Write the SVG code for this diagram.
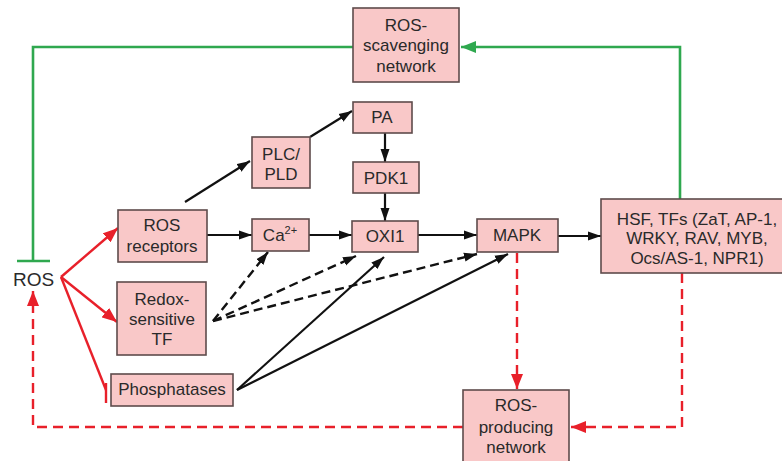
<svg xmlns="http://www.w3.org/2000/svg" width="782" height="461" viewBox="0 0 782 461">
<defs>
<style>
.box{fill:#f9c8c8;stroke:#5e4b4b;stroke-width:1.6}
.t{font-family:"Liberation Sans",Arial,sans-serif;font-size:17px;fill:#2a2a2a;text-anchor:middle}
.blk{stroke:#111;stroke-width:2.2;fill:none}
.blkd{stroke:#111;stroke-width:2.4;fill:none;stroke-dasharray:9,5}
.red{stroke:#e8202a;stroke-width:2.4;fill:none}
.redd{stroke:#e8202a;stroke-width:2.4;fill:none;stroke-dasharray:10,6}
.grn{stroke:#2fa84f;stroke-width:2.6;fill:none}
</style>
<marker id="ab" markerUnits="userSpaceOnUse" markerWidth="14" markerHeight="10" refX="13" refY="5" orient="auto"><path d="M0,0.5 L13,5 L0,9.5 z" fill="#111"/></marker>
<marker id="ar" markerUnits="userSpaceOnUse" markerWidth="16" markerHeight="12" refX="15" refY="6" orient="auto"><path d="M0,0 L15,6 L0,12 z" fill="#e8202a"/></marker>
<marker id="ag" markerUnits="userSpaceOnUse" markerWidth="16" markerHeight="12" refX="15" refY="6" orient="auto"><path d="M0,0 L15,6 L0,12 z" fill="#2fa84f"/></marker>
</defs>
<rect width="782" height="461" fill="#ffffff"/>

<g id="connectors">
<!-- green -->
<polyline class="grn" points="353,47 33,47 33,261"/>
<line class="grn" x1="17" y1="261" x2="50" y2="261"/>
<polyline class="grn" points="680,199 680,47 461,47" marker-end="url(#ag)"/>
<!-- red solid -->
<line class="red" x1="61" y1="277" x2="118" y2="228" marker-end="url(#ar)"/>
<line class="red" x1="61" y1="277" x2="117" y2="322" marker-end="url(#ar)"/>
<line class="red" x1="61" y1="277" x2="106" y2="390"/>
<line class="red" x1="106" y1="383" x2="106" y2="403"/>
<!-- red dashed -->
<polyline class="redd" points="463,427 33,427 33,291" marker-end="url(#ar)"/>
<line class="redd" x1="517" y1="253" x2="517" y2="389" marker-end="url(#ar)"/>
<polyline class="redd" points="682,273 682,427 571,427" marker-end="url(#ar)"/>
<!-- black solid -->
<line class="blk" x1="185" y1="202" x2="250" y2="161" marker-end="url(#ab)"/>
<line class="blk" x1="310" y1="137" x2="352" y2="111" marker-end="url(#ab)"/>
<line class="blk" x1="385" y1="133" x2="385" y2="162" marker-end="url(#ab)"/>
<line class="blk" x1="385" y1="193" x2="385" y2="221" marker-end="url(#ab)"/>
<line class="blk" x1="207" y1="235" x2="252" y2="235" marker-end="url(#ab)"/>
<line class="blk" x1="309" y1="235" x2="352" y2="235" marker-end="url(#ab)"/>
<line class="blk" x1="418" y1="235" x2="477" y2="235" marker-end="url(#ab)"/>
<line class="blk" x1="558" y1="236" x2="601" y2="236" marker-end="url(#ab)"/>
<line class="blk" x1="237" y1="390" x2="384" y2="257" marker-end="url(#ab)"/>
<line class="blk" x1="237" y1="390" x2="508" y2="254" marker-end="url(#ab)"/>
<!-- black dashed -->
<line class="blkd" x1="213" y1="321" x2="268" y2="252" marker-end="url(#ab)"/>
<line class="blkd" x1="213" y1="321" x2="356" y2="256" marker-end="url(#ab)"/>
<line class="blkd" x1="213" y1="321" x2="477" y2="254" marker-end="url(#ab)"/>
</g>

<g id="ros-scavenging">
<rect class="box" x="353" y="8" width="106" height="74"/>
<text class="t" x="406" y="31">ROS-</text>
<text class="t" x="406" y="51">scavenging</text>
<text class="t" x="406" y="72">network</text>
</g>
<g id="pa">
<rect class="box" x="353" y="102" width="59" height="31"/>
<text class="t" x="382" y="123">PA</text>
</g>
<g id="pdk1">
<rect class="box" x="353" y="162" width="66" height="31"/>
<text class="t" x="386" y="184">PDK1</text>
</g>
<g id="plc-pld">
<rect class="box" x="252" y="137" width="58" height="51"/>
<text class="t" x="281" y="160">PLC/</text>
<text class="t" x="281" y="180">PLD</text>
</g>
<g id="ros-receptors">
<rect class="box" x="118" y="210" width="89" height="52"/>
<text class="t" x="162" y="231">ROS</text>
<text class="t" x="162" y="252">receptors</text>
</g>
<g id="ca">
<rect class="box" x="252" y="219" width="57" height="32"/>
<text class="t" x="280" y="241">Ca<tspan font-size="11" dy="-7">2+</tspan></text>
</g>
<g id="oxi1">
<rect class="box" x="352" y="221" width="66" height="31"/>
<text class="t" x="385" y="242">OXI1</text>
</g>
<g id="mapk">
<rect class="box" x="477" y="219" width="81" height="33"/>
<text class="t" x="517" y="241">MAPK</text>
</g>
<g id="hsf-tfs">
<rect class="box" x="601" y="199" width="192" height="74"/>
<text class="t" x="697" y="225">HSF, TFs (ZaT, AP-1,</text>
<text class="t" x="697" y="244">WRKY, RAV, MYB,</text>
<text class="t" x="697" y="264">Ocs/AS-1, NPR1)</text>
</g>
<g id="redox-tf">
<rect class="box" x="117" y="282" width="89" height="73"/>
<text class="t" x="162" y="305">Redox-</text>
<text class="t" x="162" y="325">sensitive</text>
<text class="t" x="162" y="345">TF</text>
</g>
<g id="phosphatases">
<rect class="box" x="111" y="374" width="122" height="32"/>
<text class="t" x="172" y="395">Phosphatases</text>
</g>
<g id="ros-producing">
<rect class="box" x="463" y="390" width="106" height="80"/>
<text class="t" x="516" y="411">ROS-</text>
<text class="t" x="516" y="433">producing</text>
<text class="t" x="516" y="453">network</text>
</g>
<g id="ros">
<text class="t" x="33.5" y="286" style="font-size:19px">ROS</text>
</g>
</svg>
